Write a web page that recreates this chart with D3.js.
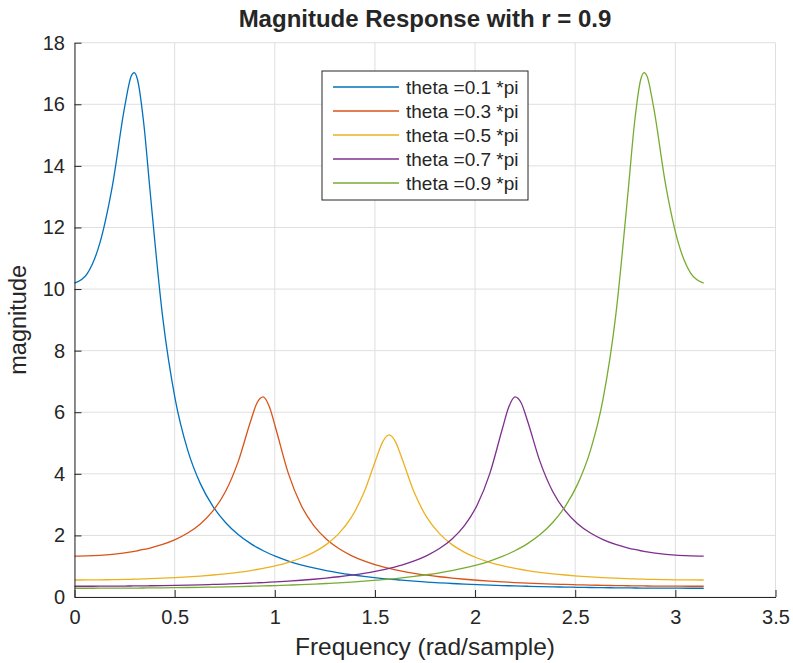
<!DOCTYPE html>
<html>
<head>
<meta charset="utf-8">
<script src="https://cdn.jsdelivr.net/npm/d3@7"></script>
<style>
  body { margin: 0; background: #fff; }
  svg text { font-family: "Liberation Sans", Arial, Helvetica, sans-serif; fill: #262626; }
</style>
</head>
<body>
<div id="chart"></div>
<script>
// frequency samples (rad/sample), shared by all curves
var freq = [0, 0.06283, 0.12566, 0.18850, 0.25133, 0.28274, 0.29845, 0.31416, 0.34558, 0.37699,
  0.43982, 0.50265, 0.56549, 0.62832, 0.69115, 0.75398, 0.81681, 0.87965, 0.91106, 0.94248,
  0.97389, 1.00531, 1.06814, 1.13097, 1.19381, 1.25664, 1.31947, 1.38230, 1.44513, 1.50796,
  1.53938, 1.57080, 1.60221, 1.63363, 1.69646, 1.75929, 1.82212, 1.88496, 1.94779, 2.01062,
  2.07345, 2.13628, 2.16770, 2.19911, 2.23053, 2.26195, 2.32478, 2.38761, 2.45044, 2.51327,
  2.57611, 2.63894, 2.70177, 2.76460, 2.79602, 2.82743, 2.84314, 2.85885, 2.89027, 2.95310,
  3.01593, 3.07876, 3.14159];

// magnitude values
var mag01 = [10.194, 10.496, 11.475, 13.329, 15.946, 16.908, 17.030, 16.813, 15.391, 13.207,
  9.112, 6.428, 4.762, 3.682, 2.945, 2.419, 2.029, 1.733, 1.610, 1.502,
  1.404, 1.317, 1.168, 1.045, 0.943, 0.857, 0.784, 0.722, 0.668, 0.621,
  0.600, 0.581, 0.562, 0.545, 0.513, 0.486, 0.461, 0.439, 0.419, 0.402,
  0.386, 0.372, 0.366, 0.360, 0.354, 0.349, 0.339, 0.330, 0.322, 0.315,
  0.309, 0.303, 0.299, 0.295, 0.293, 0.291, 0.291, 0.290, 0.289, 0.287,
  0.285, 0.284, 0.284];
var mag03 = [1.330, 1.336, 1.355, 1.387, 1.435, 1.466, 1.483, 1.502, 1.543, 1.590,
  1.708, 1.866, 2.078, 2.373, 2.795, 3.425, 4.387, 5.717, 6.302, 6.501,
  6.161, 5.463, 4.005, 2.986, 2.327, 1.885, 1.574, 1.346, 1.173, 1.038,
  0.981, 0.930, 0.884, 0.843, 0.770, 0.709, 0.658, 0.615, 0.577, 0.544,
  0.516, 0.492, 0.481, 0.470, 0.460, 0.451, 0.435, 0.420, 0.407, 0.396,
  0.386, 0.378, 0.371, 0.365, 0.362, 0.360, 0.359, 0.358, 0.356, 0.353,
  0.350, 0.349, 0.349];
var mag05 = [0.5525, 0.5536, 0.5568, 0.5623, 0.5702, 0.5751, 0.5777, 0.5806, 0.5868, 0.5937,
  0.6099, 0.6294, 0.6529, 0.6809, 0.7144, 0.7542, 0.8021, 0.8599, 0.8933, 0.9303,
  0.9714, 1.0173, 1.1265, 1.2665, 1.4507, 1.7013, 2.0564, 2.5832, 3.3904, 4.5233,
  5.0445, 5.2632, 5.0445, 4.5233, 3.3904, 2.5832, 2.0564, 1.7013, 1.4507, 1.2665,
  1.1265, 1.0173, 0.9714, 0.9303, 0.8933, 0.8599, 0.8021, 0.7542, 0.7144, 0.6809,
  0.6529, 0.6294, 0.6099, 0.5937, 0.5868, 0.5806, 0.5777, 0.5751, 0.5702, 0.5623,
  0.5568, 0.5536, 0.5525];
var mag07 = [0.349, 0.349, 0.350, 0.353, 0.356, 0.358, 0.359, 0.360, 0.362, 0.365,
  0.371, 0.378, 0.386, 0.396, 0.407, 0.420, 0.435, 0.451, 0.460, 0.470,
  0.481, 0.492, 0.516, 0.544, 0.577, 0.615, 0.658, 0.709, 0.770, 0.843,
  0.884, 0.930, 0.981, 1.038, 1.173, 1.346, 1.574, 1.885, 2.327, 2.986,
  4.005, 5.463, 6.161, 6.501, 6.302, 5.717, 4.387, 3.425, 2.795, 2.373,
  2.078, 1.866, 1.708, 1.590, 1.543, 1.502, 1.483, 1.466, 1.435, 1.387,
  1.355, 1.336, 1.330];
var mag09 = [0.284, 0.284, 0.285, 0.287, 0.289, 0.290, 0.291, 0.291, 0.293, 0.295,
  0.299, 0.303, 0.309, 0.315, 0.322, 0.330, 0.339, 0.349, 0.354, 0.360,
  0.366, 0.372, 0.386, 0.402, 0.419, 0.439, 0.461, 0.486, 0.513, 0.545,
  0.562, 0.581, 0.600, 0.621, 0.668, 0.722, 0.784, 0.857, 0.943, 1.045,
  1.168, 1.317, 1.404, 1.502, 1.610, 1.733, 2.029, 2.419, 2.945, 3.682,
  4.762, 6.428, 9.112, 13.207, 15.391, 16.813, 17.030, 16.908, 15.946, 13.329,
  11.475, 10.496, 10.194];

var seriesNames = ["theta =0.1 *pi", "theta =0.3 *pi", "theta =0.5 *pi", "theta =0.7 *pi", "theta =0.9 *pi"];
var seriesValues = [mag01, mag03, mag05, mag07, mag09];
var xTicks = [0, 0.5, 1, 1.5, 2, 2.5, 3, 3.5];
var yTicks = [0, 2, 4, 6, 8, 10, 12, 14, 16, 18];

var colors = ["#0072BD", "#D95319", "#EDB120", "#7E2F8E", "#77AC30"];

function draw() {
    var w = 793, h = 663;
    // plot box in pixels
    var pLeft = 74.5, pRight = 775.5, pTop = 42.7, pBottom = 597;

    var svg = d3.select("#chart").append("svg")
        .attr("width", w)
        .attr("height", h);

    var x = d3.scaleLinear().domain([0, 3.5]).range([pLeft, pRight]);
    var y = d3.scaleLinear().domain([0, 18]).range([pBottom, pTop]);

    // grid
    svg.append("g").selectAll("line")
        .data(xTicks).enter().append("line")
        .attr("x1", d => x(d)).attr("x2", d => x(d))
        .attr("y1", pTop).attr("y2", pBottom)
        .attr("stroke", "#dfdfdf").attr("stroke-width", 1);
    svg.append("g").selectAll("line")
        .data(yTicks).enter().append("line")
        .attr("x1", pLeft).attr("x2", pRight)
        .attr("y1", d => y(d)).attr("y2", d => y(d))
        .attr("stroke", "#dfdfdf").attr("stroke-width", 1);

    // curves
    var line = d3.line()
        .x((d, i) => x(freq[i]))
        .y(d => y(d))
        .curve(d3.curveMonotoneX);

    svg.append("g").selectAll("path")
        .data(seriesValues).enter().append("path")
        .attr("d", d => line(d))
        .attr("fill", "none")
        .attr("stroke", (d, i) => colors[i])
        .attr("stroke-width", 1.3);

    // axes, ticks pointing inside
    var xAxis = d3.axisBottom(x).tickValues(xTicks).tickFormat(d3.format("")).tickSizeInner(-7).tickSizeOuter(0).tickPadding(13);
    var yAxis = d3.axisLeft(y).tickValues(yTicks).tickFormat(d3.format("")).tickSizeInner(-7).tickSizeOuter(0).tickPadding(9.5);

    var gx = svg.append("g").attr("transform", "translate(0," + pBottom + ")").call(xAxis);
    var gy = svg.append("g").attr("transform", "translate(" + pLeft + ",0)").call(yAxis);
    [gx, gy].forEach(function(g) {
        g.select(".domain").attr("stroke", "#262626");
        g.selectAll(".tick line").attr("stroke", "#262626");
        g.selectAll(".tick text").style("font-size", "20px").attr("fill", "#262626");
    });

    // title and labels
    svg.append("text")
        .attr("x", (pLeft + pRight) / 2).attr("y", 27)
        .attr("text-anchor", "middle")
        .style("font-size", "24px").style("font-weight", "bold")
        .text("Magnitude Response with r = 0.9");

    svg.append("text")
        .attr("x", (pLeft + pRight) / 2).attr("y", 655)
        .attr("text-anchor", "middle")
        .style("font-size", "24.5px")
        .text("Frequency (rad/sample)");

    svg.append("text")
        .attr("transform", "translate(26," + (pTop + pBottom) / 2 + ") rotate(-90)")
        .attr("text-anchor", "middle")
        .style("font-size", "23.5px")
        .text("magnitude");

    // legend
    var legend = svg.append("g");
    legend.append("rect")
        .attr("x", 322).attr("y", 71)
        .attr("width", 206).attr("height", 129)
        .attr("fill", "#fff").attr("stroke", "#262626").attr("stroke-width", 1);

    var rows = legend.selectAll("g")
        .data(seriesNames).enter().append("g")
        .attr("transform", (d, i) => "translate(0," + (87 + i * 24) + ")");
    rows.append("line")
        .attr("x1", 333).attr("x2", 399)
        .attr("y1", 0).attr("y2", 0)
        .attr("stroke", (d, i) => colors[i])
        .attr("stroke-width", 1.3);
    rows.append("text")
        .attr("x", 406).attr("dy", "0.35em")
        .style("font-size", "19px")
        .text(d => d);
}

draw();
</script>
</body>
</html>
